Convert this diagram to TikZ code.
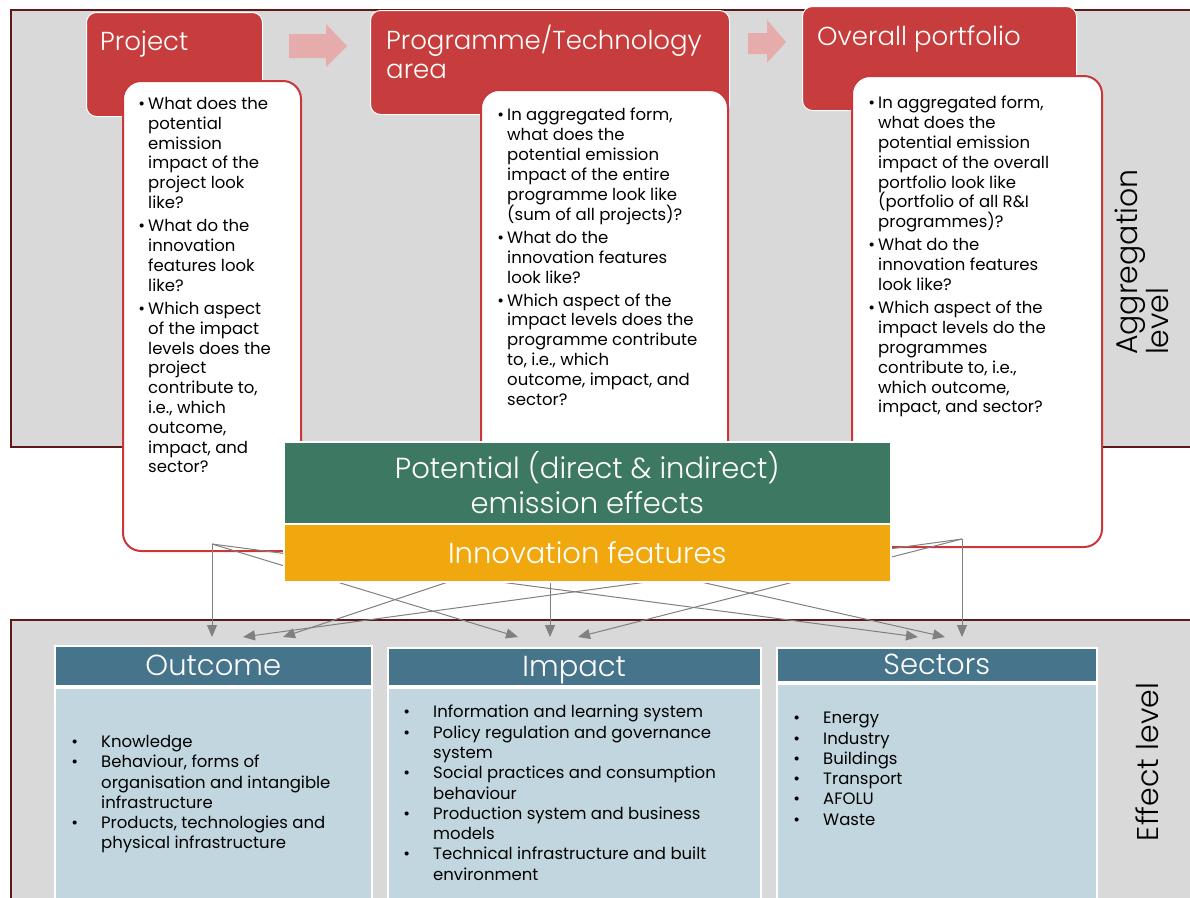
\documentclass[tikz,border=0pt]{standalone}
\usepackage{fontspec}
\setmainfont{Poppins}
\newfontfamily\thinfont{Poppins Light}
\usetikzlibrary{arrows.meta,positioning}

\definecolor{panelgray}{HTML}{D9D9D9}
\definecolor{panelline}{HTML}{5C1A1A}
\definecolor{hdrred}{HTML}{C73D3D}
\definecolor{arrowpink}{HTML}{E6ABAB}
\definecolor{cardline}{HTML}{C9373A}
\definecolor{emgreen}{HTML}{3D7862}
\definecolor{innoorange}{HTML}{F0A80E}
\definecolor{colhead}{HTML}{46748A}
\definecolor{colbody}{HTML}{C2D6DF}
\definecolor{flowgray}{HTML}{808080}

\newcommand\bul{\llap{\textbullet\hspace{3pt}}}
\newcommand\lbul{\llap{\textbullet\hspace{23pt}}}

\tikzset{
  panel/.style={fill=panelgray, draw=panelline, line width=2pt},
  hdr/.style={rectangle, rounded corners=10pt, fill=hdrred, draw=white,
    line width=1pt, anchor=north west, inner sep=0pt},
  hdrtext/.style={text=white, inner sep=0pt, align=left,
    font=\thinfont\fontsize{26}{29}\selectfont},
  card/.style={rectangle, rounded corners=18pt, fill=white, draw=cardline,
    line width=2pt, anchor=north west, inner sep=0pt},
  cardtext/.style={anchor=north west, inner sep=0pt, align=left,
    font=\fontsize{16.5}{19.8}\selectfont},
  bigbox/.style={rectangle, draw=white, line width=1.5pt, anchor=north west,
    inner sep=0pt, text=white, align=center,
    font=\thinfont\fontsize{29}{35}\selectfont},
  colhdr/.style={rectangle, fill=colhead, draw=white, line width=1.5pt,
    anchor=north west, inner sep=0pt, text=white, text height=20pt,
    text depth=0pt, font=\thinfont\fontsize{29}{32}\selectfont},
  colbox/.style={rectangle, fill=colbody, draw=white, line width=1.5pt,
    anchor=north west, inner sep=0pt},
  coltext/.style={anchor=north west, inner sep=0pt, align=left,
    font=\fontsize{16.5}{20.3}\selectfont},
  flow/.style={draw=flowgray, line width=1pt,
    -{Triangle[length=12pt,width=10pt]}},
  sidelabel/.style={rotate=90, inner sep=0pt, align=left,
    font=\thinfont\fontsize{30}{31}\selectfont}
}

\begin{document}
\begin{tikzpicture}[x=1pt,y=-1pt]
  \useasboundingbox (0,0) rectangle (1190,897);
  \clip (0,0) rectangle (1190,897);

  \draw[panel] (11,10) rectangle (1210,447);
  \draw[panel] (11,620) rectangle (1210,920);

  \node[hdr, minimum width=176pt, minimum height=104pt] (proj) at (86,12) {};
  \node[hdr, minimum width=359pt, minimum height=104pt] (prog) at (370,10) {};
  \node[hdr, minimum width=274pt, minimum height=104pt] (port) at (802,6) {};
  \node[hdrtext, anchor=west] (projtxt) at (100,44) {Project};
  \node[hdrtext, anchor=north west] (progtxt) at (386,25) {Programme/Technology\\area};
  \node[hdrtext, anchor=west] (porttxt) at (817,39) {Overall portfolio};

  \fill[arrowpink] (289,34) -- (326,34) -- (326,24) -- (347,46) -- (326,67)
    -- (326,58) -- (289,58) -- cycle;
  \fill[arrowpink] (748,33) -- (767,33) -- (767,20) -- (786,42) -- (767,63)
    -- (767,54) -- (748,54) -- cycle;

  \node[card, minimum width=178pt, minimum height=470pt] (projcard) at (122,80) {};
  \node[card, minimum width=247pt, minimum height=456pt] (progcard) at (480,89) {};
  \node[card, minimum width=250pt, minimum height=471pt] (portcard) at (851,75) {};

  \node[cardtext] (projq) at (148,97) {\bul What does the\\ potential\\ emission\\
    impact of the\\ project look\\ like?\\[3.5pt]
    \bul What do the\\ innovation\\ features look\\ like?\\[3.5pt]
    \bul Which aspect\\ of the impact\\ levels does the\\ project\\
    contribute to,\\ i.e., which\\ outcome,\\ impact, and\\ sector?};
  \node[cardtext] (progq) at (507,108) {\bul In aggregated form,\\ what does the\\
    potential emission\\ impact of the entire\\ programme look like\\
    (sum of all projects)?\\[3pt]
    \bul What do the\\ innovation features\\ look like?\\[3pt]
    \bul Which aspect of the\\ impact levels does the\\ programme contribute\\
    to, i.e., which\\ outcome, impact, and\\ sector?};
  \node[cardtext] (portq) at (878,96) {\bul In aggregated form,\\ what does the\\
    potential emission\\ impact of the overall\\ portfolio look like\\
    (portfolio of all R\&I\\ programmes)?\\[3.5pt]
    \bul What do the\\ innovation features\\ look like?\\[3.5pt]
    \bul Which aspect of the\\ impact levels do the\\ programmes\\
    contribute to, i.e.,\\ which outcome,\\ impact, and sector?};

  \coordinate (srcL) at (212,544);
  \coordinate (srcM) at (550,548);
  \coordinate (srcR) at (962,539);
  \coordinate (outA) at (212,637);
  \coordinate (outB) at (243,637);
  \coordinate (outC) at (283,637);
  \coordinate (impA) at (518,637);
  \coordinate (impB) at (550,637);
  \coordinate (impC) at (578,637);
  \coordinate (secA) at (918,637);
  \coordinate (secB) at (945,637);
  \coordinate (secC) at (962,637);
  \begin{scope}[flow]
    \draw (srcL) to (outA);
    \draw (srcL) to (impA);
    \draw (srcL) to (secA);
    \draw (srcM) to (outC);
    \draw (srcM) to (impB);
    \draw (srcM) to (secB);
    \draw (srcR) to (outB);
    \draw (srcR) to (impC);
    \draw (srcR) to (secC);
  \end{scope}

  \node[bigbox, fill=emgreen, minimum width=607pt, minimum height=82pt] (emis)
    at (283,441) {Potential (direct \& indirect)\\emission effects};
  \node[bigbox, fill=innoorange, minimum width=607pt, minimum height=58pt] (inno)
    at (283,523) {Innovation features};

  \node[colhdr, minimum width=317pt, minimum height=40pt] (outhdr) at (54,645) {Outcome};
  \node[colbox, minimum width=317pt, minimum height=230pt] (outbody) at (54,687) {};
  \node[colhdr, minimum width=373pt, minimum height=38pt] (imphdr) at (387,647) {Impact};
  \node[colbox, minimum width=373pt, minimum height=230pt] (impbody) at (387,687) {};
  \node[colhdr, minimum width=320pt, minimum height=34pt] (sechdr) at (776,647) {Sectors};
  \node[colbox, minimum width=320pt, minimum height=230pt] (secbody) at (776,683) {};

  \node[coltext] (outlist) at (101,735) {\lbul Knowledge\\
    \lbul Behaviour, forms of\\ organisation and intangible\\ infrastructure\\
    \lbul Products, technologies and\\ physical infrastructure};
  \node[coltext] (implist) at (433,705) {\lbul Information and learning system\\
    \lbul Policy regulation and governance\\ system\\
    \lbul Social practices and consumption\\ behaviour\\
    \lbul Production system and business\\ models\\
    \lbul Technical infrastructure and built\\ environment};
  \node[coltext] (seclist) at (823,712) {\lbul Energy\\ \lbul Industry\\
    \lbul Buildings\\ \lbul Transport\\ \lbul AFOLU\\ \lbul Waste};

  \node[sidelabel] (agglabel) at (1142,262) {Aggregation\\level};
  \node[sidelabel] (efflabel) at (1147,762) {Effect level};
\end{tikzpicture}
\end{document}
